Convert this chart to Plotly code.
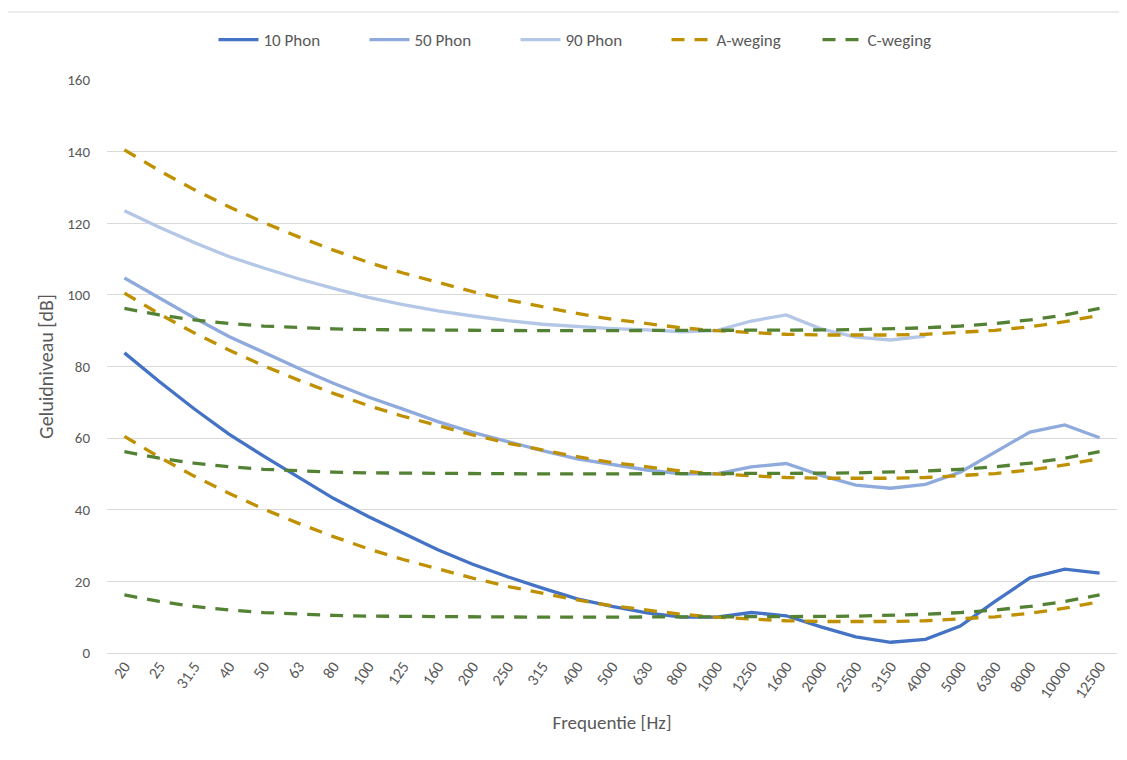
import plotly.graph_objects as go

freqs = ["20", "25", "31.5", "40", "50", "63", "80", "100", "125", "160", "200", "250",
         "315", "400", "500", "630", "800", "1000", "1250", "1600", "2000", "2500",
         "3150", "4000", "5000", "6300", "8000", "10000", "12500"]

phon_10 = [83.8, 75.8, 68.2, 61.1, 55.0, 49.0, 43.2, 38.1, 33.5, 28.8, 24.8, 21.3,
           18.1, 15.1, 13.0, 11.2, 10.0, 10.0, 11.3, 10.4, 7.3, 4.5,
           3.0, 3.8, 7.5, 14.4, 21.0, 23.4, 22.3]
phon_50 = [104.7, 99.1, 93.6, 88.4, 83.9, 79.5, 75.3, 71.5, 68.1, 64.6, 61.6, 59.0,
           56.5, 54.2, 52.6, 51.1, 50.0, 50.0, 52.0, 52.9, 49.6, 46.9,
           46.0, 47.1, 50.5, 56.1, 61.7, 63.7, 60.1]
phon_90 = [123.5, 118.9, 114.6, 110.7, 107.5, 104.5, 101.8, 99.3, 97.3, 95.5, 94.1, 92.8,
           91.8, 91.1, 90.6, 90.2, 89.7, 90.0, 92.7, 94.4, 90.5, 88.2,
           87.4, 88.5, None, None, None, None, None]

a_weging_10 = [60.5, 54.7, 49.4, 44.6, 40.2, 36.2, 32.5, 29.1, 26.1, 23.4, 20.9, 18.6,
               16.6, 14.8, 13.2, 11.9, 10.8, 10.0, 9.4, 9.0, 8.8, 8.7,
               8.8, 9.0, 9.5, 10.1, 11.1, 12.5, 14.3]
a_weging_50 = [100.5, 94.7, 89.4, 84.6, 80.2, 76.2, 72.5, 69.1, 66.1, 63.4, 60.9, 58.6,
               56.6, 54.8, 53.2, 51.9, 50.8, 50.0, 49.4, 49.0, 48.8, 48.7,
               48.8, 49.0, 49.5, 50.1, 51.1, 52.5, 54.3]
a_weging_90 = [140.5, 134.7, 129.4, 124.6, 120.2, 116.2, 112.5, 109.1, 106.1, 103.4, 100.9, 98.6,
               96.6, 94.8, 93.2, 91.9, 90.8, 90.0, 89.4, 89.0, 88.8, 88.7,
               88.8, 89.0, 89.5, 90.1, 91.1, 92.5, 94.3]

c_weging_10 = [16.2, 14.4, 13.0, 12.0, 11.3, 10.8, 10.5, 10.3, 10.2, 10.1, 10.0, 10.0,
               10.0, 10.0, 10.0, 10.0, 10.0, 10.0, 10.0, 10.1, 10.2, 10.3,
               10.5, 10.8, 11.3, 12.0, 13.0, 14.4, 16.2]
c_weging_50 = [56.2, 54.4, 53.0, 52.0, 51.3, 50.8, 50.5, 50.3, 50.2, 50.1, 50.0, 50.0,
               50.0, 50.0, 50.0, 50.0, 50.0, 50.0, 50.0, 50.1, 50.2, 50.3,
               50.5, 50.8, 51.3, 52.0, 53.0, 54.4, 56.2]
c_weging_90 = [96.2, 94.4, 93.0, 92.0, 91.3, 90.8, 90.5, 90.3, 90.2, 90.1, 90.0, 90.0,
               90.0, 90.0, 90.0, 90.0, 90.0, 90.0, 90.0, 90.1, 90.2, 90.3,
               90.5, 90.8, 91.3, 92.0, 93.0, 94.4, 96.2]

y_ticks = [0, 20, 40, 60, 80, 100, 120, 140, 160]

FONT = "Calibri, Carlito, Lato, 'Open Sans', sans-serif"
TXT = "#595959"

fig = go.Figure()

solid = [("10 Phon", phon_10, "#4472C4"),
         ("50 Phon", phon_50, "#8FAADC"),
         ("90 Phon", phon_90, "#B4C7E7")]
for name, vals, col in solid:
    fig.add_trace(go.Scatter(x=freqs, y=vals, mode="lines", name=name,
                             line=dict(color=col, width=3.3), connectgaps=False))

dashed = [("A-weging", [a_weging_10, a_weging_50, a_weging_90], "#BF9000"),
          ("C-weging", [c_weging_10, c_weging_50, c_weging_90], "#548235")]
for name, series, col in dashed:
    for k, vals in enumerate(series):
        fig.add_trace(go.Scatter(x=freqs, y=vals, mode="lines", name=name,
                                 legendgroup=name, showlegend=(k == 0),
                                 line=dict(color=col, width=3.3, dash="13px,10px")))

# page has an 8px body margin; figure coords = screen coords - 8
W, H = 1127, 760
L, R, T, B = 99, 18, 72, 115
pw, ph = W - L - R, H - T - B

fig.update_layout(
    width=W, height=H,
    margin=dict(l=L, r=R, t=T, b=B, autoexpand=False),
    paper_bgcolor="white", plot_bgcolor="white",
    font=dict(family=FONT, size=13, color=TXT),
    showlegend=True,
    legend=dict(orientation="h", xref="container", x=583 / W, xanchor="center",
                yref="container", y=1 - 14 / H, yanchor="top",
                font=dict(size=17, color=TXT),
                entrywidth=96, itemwidth=40, bgcolor="rgba(0,0,0,0)"),
    xaxis=dict(type="category", categoryorder="array", categoryarray=freqs,
               tickangle=-55, showgrid=False, zeroline=False, showline=False,
               ticks="", tickfont=dict(size=16, color=TXT),
               range=[-0.5, len(freqs) - 0.5], automargin=False,
               title=dict(text="Frequentie [Hz]", font=dict(size=19, color=TXT), standoff=14)),
    yaxis=dict(range=[0, 160], tickvals=y_ticks, showgrid=True, gridcolor="#D9D9D9",
               gridwidth=1, zeroline=True, zerolinecolor="#D9D9D9", zerolinewidth=1,
               showline=False, ticks="", ticklabelstandoff=16, automargin=False,
               tickfont=dict(size=15, color=TXT),
               title=dict(text="Geluidniveau [dB]", font=dict(size=20, color=TXT), standoff=8)),
    shapes=[dict(type="rect", xref="paper", yref="paper",
                 x0=(-4 - L) / pw, x1=(1118 - L) / pw,
                 y0=(H - B - 780) / ph, y1=(H - B - 4) / ph,
                 line=dict(color="#D9D9D9", width=1), fillcolor="rgba(0,0,0,0)",
                 layer="below")],
)

fig.write_html("out.html")
